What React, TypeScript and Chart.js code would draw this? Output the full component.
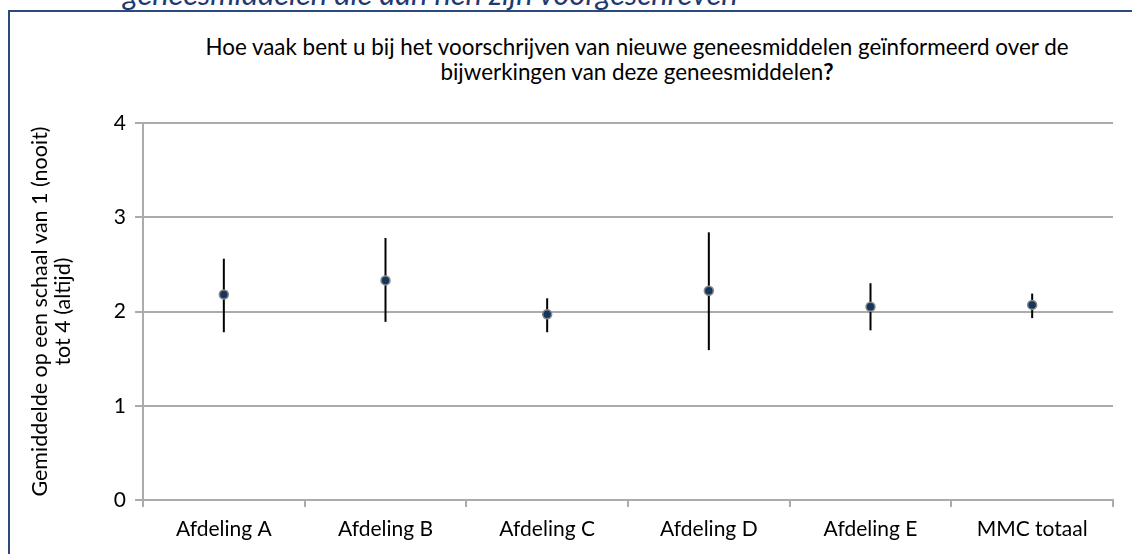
import React, { useEffect, useRef } from "react";
import { Chart, registerables } from "chart.js";

Chart.register(...registerables);

const categories = ["Afdeling A", "Afdeling B", "Afdeling C", "Afdeling D", "Afdeling E", "MMC totaal"];
const means = [2.18, 2.33, 1.97, 2.22, 2.05, 2.07];
const lowerBounds = [1.78, 1.89, 1.78, 1.59, 1.8, 1.93];
const upperBounds = [2.56, 2.78, 2.14, 2.84, 2.3, 2.19];
const yMin = 0;
const yMax = 4;
const yStep = 1;

const titleLine1 = "Hoe vaak bent u bij het voorschrijven van nieuwe geneesmiddelen geïnformeerd over de";
const titleLine2 = "bijwerkingen van deze geneesmiddelen";
const yTitle = ["Gemiddelde op een schaal van 1 (nooit)", "tot 4 (altijd)"];
const captionAbove = "geneesmiddelen die aan hen zijn voorgeschreven";

const FONT = "Lato, 'Open Sans', sans-serif";
const FS_TICK = 21;
const FS_YTITLE = 21.5;
const FS_TITLE = 22.4;
const GRID = "#ababab";

const errorBarPlugin = {
  id: "errorBars",
  beforeDatasetsDraw(chart: any) {
    const ctx = chart.ctx;
    const x = chart.scales.x;
    const y = chart.scales.y;
    ctx.save();
    ctx.strokeStyle = "#000000";
    ctx.lineWidth = 2;
    categories.forEach((_, i) => {
      const px = x.getPixelForValue(i);
      ctx.beginPath();
      ctx.moveTo(px, y.getPixelForValue(lowerBounds[i]));
      ctx.lineTo(px, y.getPixelForValue(upperBounds[i]));
      ctx.stroke();
    });
    ctx.restore();
  },
};

export default function App() {
  const canvasRef = useRef<HTMLCanvasElement | null>(null);

  useEffect(() => {
    if (!canvasRef.current) return;
    const chart = new Chart(canvasRef.current, {
      type: "line",
      data: {
        labels: categories,
        datasets: [
          {
            data: means,
            showLine: false,
            pointRadius: 4.5,
            pointBorderWidth: 1.5,
            pointBackgroundColor: "#17365d",
            pointBorderColor: "#8a8a8a",
          },
        ],
      },
      options: {
        animation: false,
        responsive: false,
        maintainAspectRatio: false,
        layout: { padding: { top: 111, right: 19, bottom: 0, left: 0 } },
        plugins: {
          legend: { display: false },
          tooltip: { enabled: false },
          title: { display: false },
        },
        scales: {
          x: {
            type: "category",
            offset: true,
            afterFit: (s: any) => {
              s.height = 54;
            },
            grid: {
              display: true,
              offset: true,
              drawOnChartArea: false,
              drawTicks: true,
              tickLength: 7,
              color: GRID,
              lineWidth: 2,
            },
            border: { display: true, color: GRID, width: 2 },
            ticks: {
              color: "#000000",
              font: { family: FONT, size: FS_TICK },
              padding: 10,
              maxRotation: 0,
              autoSkip: false,
            },
          },
          y: {
            min: yMin,
            max: yMax,
            afterFit: (s: any) => {
              s.width = 134;
            },
            grid: {
              color: GRID,
              lineWidth: 2,
              drawTicks: true,
              tickLength: 8,
            },
            border: { display: true, color: GRID, width: 2 },
            ticks: {
              stepSize: yStep,
              color: "#000000",
              font: { family: FONT, size: FS_TICK },
              padding: 9,
            },
            title: {
              display: true,
              text: yTitle,
              color: "#000000",
              font: { family: FONT, size: FS_YTITLE, lineHeight: 1.05 },
              padding: { top: 20, bottom: 0 },
            },
          },
        },
      },
      plugins: [errorBarPlugin],
    } as any);
    return () => chart.destroy();
  }, []);

  return (
    <div
      style={{
        position: "absolute",
        left: 0,
        top: 0,
        width: 1132,
        height: 554,
        overflow: "hidden",
        background: "#ffffff",
        fontFamily: FONT,
      }}
    >
      <div
        style={{
          position: "absolute",
          left: 123,
          top: -24,
          fontStyle: "italic",
          fontSize: 30.8,
          lineHeight: "36px",
          color: "#1f3a73",
          whiteSpace: "nowrap",
        }}
      >
        {captionAbove}
      </div>
      <div
        style={{
          position: "absolute",
          left: 8,
          top: 10,
          width: 1130,
          height: 560,
          borderTop: "2px solid #2b4a7e",
          borderLeft: "2px solid #2b4a7e",
        }}
      />
      <div
        style={{
          position: "absolute",
          left: 137,
          top: 34,
          width: 1000,
          textAlign: "center",
          fontSize: FS_TITLE,
          lineHeight: "25px",
          color: "#000000",
        }}
      >
        <div style={{ whiteSpace: "nowrap" }}>{titleLine1}</div>
        <div style={{ whiteSpace: "nowrap" }}>
          {titleLine2}
          <b>?</b>
        </div>
      </div>
      <canvas
        ref={canvasRef}
        width={1123}
        height={542}
        style={{ position: "absolute", left: 9, top: 12, width: 1123, height: 542 }}
      />
    </div>
  );
}
